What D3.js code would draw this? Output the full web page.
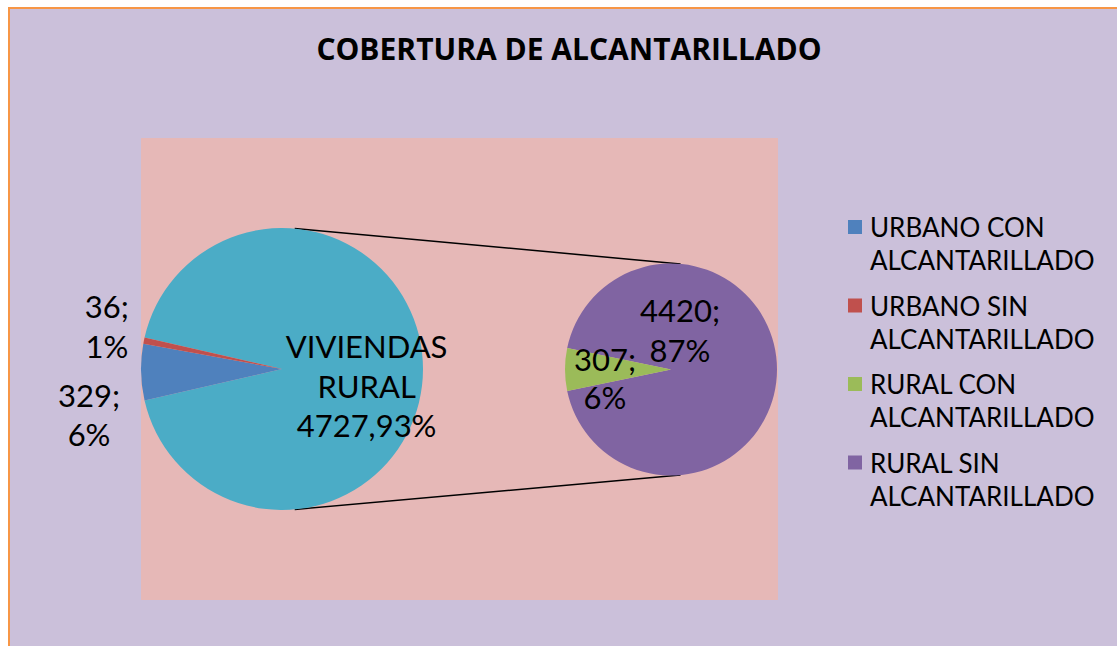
<!DOCTYPE html>
<html>
<head>
<meta charset="utf-8">
<script src="https://cdn.jsdelivr.net/npm/d3@7"></script>
<style>
  html, body { margin: 0; padding: 0; background: #fff; }
  svg { display: block; font-family: Lato, "Open Sans", sans-serif; }
</style>
</head>
<body>
<svg id="chart" width="1117" height="646"></svg>
<script>
// datos
var titulo = "COBERTURA DE ALCANTARILLADO";
var categorias = ["URBANO CON ALCANTARILLADO", "URBANO SIN ALCANTARILLADO", "RURAL CON ALCANTARILLADO", "RURAL SIN ALCANTARILLADO"];
var valores = [329, 36, 307, 4420];
var colores = ["#4F81BD", "#C0504D", "#9BBB59", "#8064A2"];
var grupoNombre = ["VIVIENDAS", "RURAL"];
var grupoColor = "#4BACC6";

var total = d3.sum(valores);
var ruralTotal = valores[2] + valores[3];

var svg = d3.select("#chart");

// fondo y marco
svg.append("rect").attr("x", 9).attr("y", 8).attr("width", 1130).attr("height", 660)
   .attr("fill", "#CBC0DA").attr("stroke", "#F79646").attr("stroke-width", 2);

// area de trazado
svg.append("rect").attr("x", 141).attr("y", 138).attr("width", 637).attr("height", 462)
   .attr("fill", "#E6B8B7");

svg.append("text").attr("x", 569).attr("y", 60).attr("text-anchor", "middle")
   .style("font-family", "'Open Sans', sans-serif")
   .attr("font-size", 30).attr("font-weight", "bold").attr("fill", "#000")
   .text(titulo);

var c1 = {x: 282, y: 369, r: 141};
var c2 = {x: 671, y: 369.5, r: 106};

// pie principal: grupo rural + urbanos
var mainData = [
  {nombre: "grupo", valor: ruralTotal, color: grupoColor},
  {nombre: categorias[0], valor: valores[0], color: colores[0]},
  {nombre: categorias[1], valor: valores[1], color: colores[1]}
];
var fMain = ruralTotal / total;
var pie1 = d3.pie().sort(null).value(function(d) { return d.valor; })
  .startAngle(Math.PI / 2 - fMain * Math.PI)
  .endAngle(Math.PI / 2 - fMain * Math.PI + 2 * Math.PI);
var arc1 = d3.arc().innerRadius(0).outerRadius(c1.r);
var arcs1 = pie1(mainData);

// pie secundario
var secData = [
  {nombre: categorias[3], valor: valores[3], color: colores[3]},
  {nombre: categorias[2], valor: valores[2], color: colores[2]}
];
var fSec = valores[3] / ruralTotal;
var pie2 = d3.pie().sort(null).value(function(d) { return d.valor; })
  .startAngle(Math.PI / 2 - fSec * Math.PI)
  .endAngle(Math.PI / 2 - fSec * Math.PI + 2 * Math.PI);
var arc2 = d3.arc().innerRadius(0).outerRadius(c2.r);
var arcs2 = pie2(secData);

// lineas de conexion (tangentes exteriores)
var d = c2.x - c1.x;
var th = Math.asin((c1.r - c2.r) / d);
[-1, 1].forEach(function(s) {
  svg.append("line")
    .attr("x1", c1.x + c1.r * Math.sin(th)).attr("y1", c1.y + s * c1.r * Math.cos(th))
    .attr("x2", c2.x + c2.r * Math.sin(th)).attr("y2", c2.y + s * c2.r * Math.cos(th))
    .attr("stroke", "#000").attr("stroke-width", 1.5);
});

var g1 = svg.append("g").attr("transform", "translate(" + c1.x + "," + c1.y + ")");
g1.selectAll("path").data(arcs1).enter().append("path")
  .attr("d", arc1).attr("fill", function(d) { return d.data.color; });

var g2 = svg.append("g").attr("transform", "translate(" + c2.x + "," + c2.y + ")");
g2.selectAll("path").data(arcs2).enter().append("path")
  .attr("d", arc2).attr("fill", function(d) { return d.data.color; });

function pct(v) { return Math.round(v / total * 100) + "%"; }

function etiqueta(g, x, y, lineas, fs, lh) {
  var t = g.append("text").attr("text-anchor", "middle").attr("font-size", fs).attr("fill", "#000");
  lineas.forEach(function(l, i) {
    t.append("tspan").attr("x", x).attr("y", y + i * lh).text(l);
  });
}

// etiquetas del pie principal
var outer = d3.arc().innerRadius(c1.r).outerRadius(c1.r);
var pRed = outer.centroid(arcs1[2]);
var pBlue = outer.centroid(arcs1[1]);
etiqueta(g1, pRed[0] - 37, pRed[1] - 23, [valores[1] + ";", pct(valores[1])], 31, 40);
etiqueta(g1, pBlue[0] - 52, pBlue[1] + 35, [valores[0] + ";", pct(valores[0])], 31, 39);
var cg = d3.arc().innerRadius(0).outerRadius(c1.r * 1.2).centroid(arcs1[0]);
etiqueta(g1, cg[0], cg[1] - 11, [grupoNombre[0], grupoNombre[1], ruralTotal + "," + pct(ruralTotal)], 31, 39.5);

// etiquetas del pie secundario
var cP = arc2.centroid(arcs2[0]);
var cG = arc2.centroid(arcs2[1]);
etiqueta(g2, cP[0] - 44, cP[1] - 48, [valores[3] + ";", pct(valores[3])], 31, 40);
etiqueta(g2, cG[0] - 13, cG[1] + 1, [valores[2] + ";", pct(valores[2])], 31, 38);

// leyenda
var leg = svg.append("g").attr("transform", "translate(848,220)");
var items = leg.selectAll("g").data(categorias).enter().append("g")
  .attr("transform", function(d, i) { return "translate(0," + (i * 78.5) + ")"; });
items.append("rect").attr("width", 14).attr("height", 14)
  .attr("fill", function(d, i) { return colores[i]; });
items.each(function(d) {
  var partes = d.split(" ");
  var l1 = partes.slice(0, partes.length - 1).join(" ");
  var l2 = partes[partes.length - 1];
  var t = d3.select(this).append("text").attr("font-size", 26).attr("fill", "#000");
  t.append("tspan").attr("x", 22).attr("y", 17).text(l1);
  t.append("tspan").attr("x", 22).attr("y", 50).text(l2);
});
</script>
</body>
</html>
